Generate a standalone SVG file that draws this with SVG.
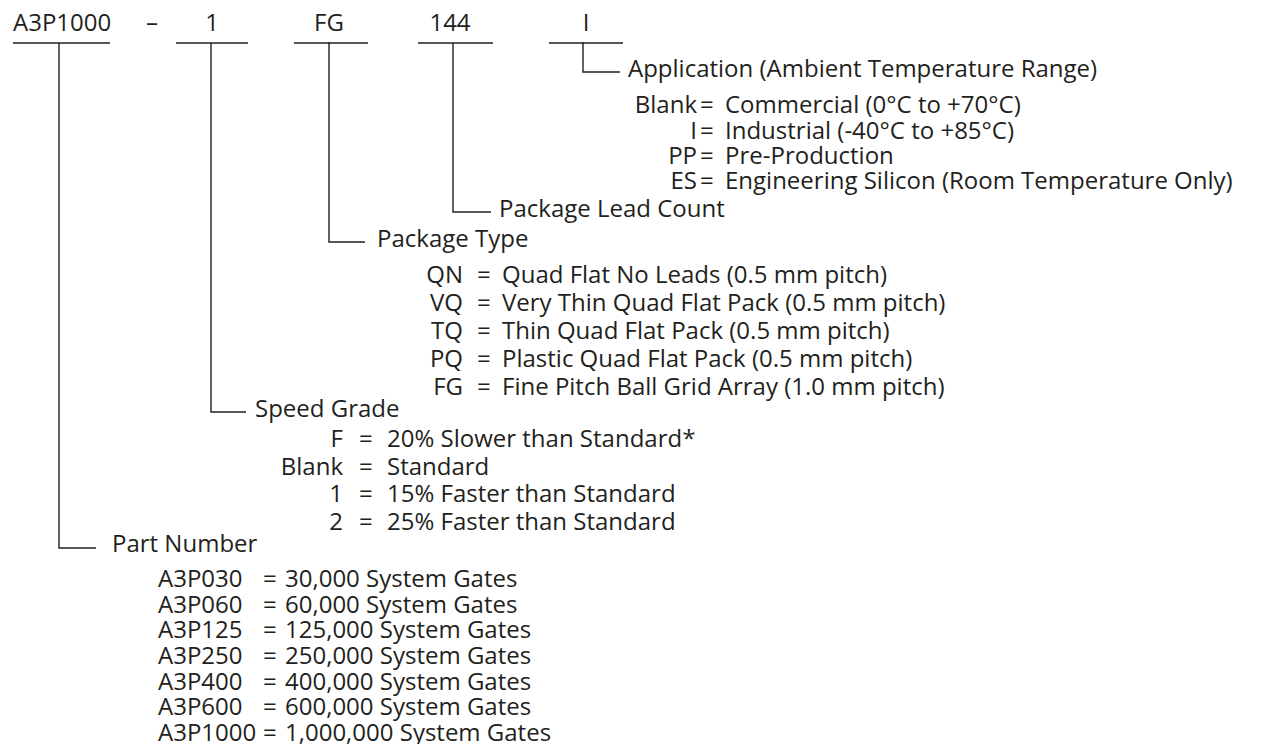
<svg xmlns="http://www.w3.org/2000/svg" width="1261" height="744" viewBox="0 0 1261 744">
<style>
text{font-family:"Open Sans","Noto Sans","DejaVu Sans",sans-serif;font-size:24px;fill:#231f20}
.e{text-anchor:end}
.m{text-anchor:middle}
.ln{stroke:#231f20;stroke-width:1.4;fill:none}
</style>
<rect width="1261" height="744" fill="#fff"/>
<g id="connectors" class="ln">
<path d="M13 43H110M176 43H248M294 43H368M418 43H493M549 43H623"/>
<path d="M59 43V548H96"/>
<path d="M211 43V412H246"/>
<path d="M329 42V242H365"/>
<path d="M453 43V212H491"/>
<path d="M583 42V72H620"/>
</g>
<g id="code">
<text x="13" y="31">A3P1000</text>
<text x="152" y="31" class="m">–</text>
<text x="212" y="31" class="m">1</text>
<text x="329" y="31" class="m">FG</text>
<text x="450" y="31" class="m">144</text>
<text x="586" y="31" class="m">I</text>
</g>
<g id="application">
<text x="628" y="77">Application (Ambient Temperature Range)</text>
<text x="697" y="113" class="e">Blank</text><text x="700" y="113">=</text><text x="725" y="113">Commercial (0°C to +70°C)</text>
<text x="697" y="139" class="e">I</text><text x="700" y="139">=</text><text x="725" y="139">Industrial (-40°C to +85°C)</text>
<text x="697" y="164" class="e">PP</text><text x="700" y="164">=</text><text x="725" y="164">Pre-Production</text>
<text x="697" y="189" class="e">ES</text><text x="700" y="189">=</text><text x="725" y="189">Engineering Silicon (Room Temperature Only)</text>
</g>
<g id="lead-count">
<text x="499" y="217">Package Lead Count</text>
</g>
<g id="package-type">
<text x="377" y="247">Package Type</text>
<text x="463" y="283" class="e">QN</text><text x="477" y="283">=</text><text x="502" y="283">Quad Flat No Leads (0.5 mm pitch)</text>
<text x="463" y="311" class="e">VQ</text><text x="477" y="311">=</text><text x="502" y="311">Very Thin Quad Flat Pack (0.5 mm pitch)</text>
<text x="463" y="339" class="e">TQ</text><text x="477" y="339">=</text><text x="502" y="339">Thin Quad Flat Pack (0.5 mm pitch)</text>
<text x="463" y="367" class="e">PQ</text><text x="477" y="367">=</text><text x="502" y="367">Plastic Quad Flat Pack (0.5 mm pitch)</text>
<text x="463" y="395" class="e">FG</text><text x="477" y="395">=</text><text x="502" y="395">Fine Pitch Ball Grid Array (1.0 mm pitch)</text>
</g>
<g id="speed-grade">
<text x="255" y="417">Speed Grade</text>
<text x="343" y="447" class="e">F</text><text x="359" y="447">=</text><text x="387" y="447">20% Slower than Standard*</text>
<text x="343" y="475" class="e">Blank</text><text x="359" y="475">=</text><text x="387" y="475">Standard</text>
<text x="343" y="502" class="e">1</text><text x="359" y="502">=</text><text x="387" y="502">15% Faster than Standard</text>
<text x="343" y="530" class="e">2</text><text x="359" y="530">=</text><text x="387" y="530">25% Faster than Standard</text>
</g>
<g id="part-number">
<text x="112" y="552">Part Number</text>
<text x="158" y="587">A3P030</text><text x="263" y="587">=</text><text x="285" y="587">30,000 System Gates</text>
<text x="158" y="613">A3P060</text><text x="263" y="613">=</text><text x="285" y="613">60,000 System Gates</text>
<text x="158" y="638">A3P125</text><text x="263" y="638">=</text><text x="285" y="638">125,000 System Gates</text>
<text x="158" y="664">A3P250</text><text x="263" y="664">=</text><text x="285" y="664">250,000 System Gates</text>
<text x="158" y="690">A3P400</text><text x="263" y="690">=</text><text x="285" y="690">400,000 System Gates</text>
<text x="158" y="715">A3P600</text><text x="263" y="715">=</text><text x="285" y="715">600,000 System Gates</text>
<text x="158" y="741">A3P1000</text><text x="263" y="741">=</text><text x="285" y="741">1,000,000 System Gates</text>
</g>
</svg>
